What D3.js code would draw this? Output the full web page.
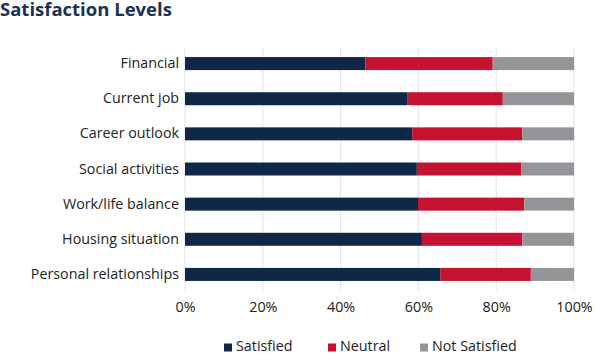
<!DOCTYPE html>
<html>
<head>
<meta charset="utf-8">
<script src="https://cdn.jsdelivr.net/npm/d3@7"></script>
<style>
  body { margin: 0; background: #fff; }
  text { font-family: "Open Sans", sans-serif; }
</style>
</head>
<body>
<div id="vis-container"></div>
<script>
// chart data
var categories = ["Financial", "Current job", "Career outlook", "Social activities",
	"Work/life balance", "Housing situation", "Personal relationships"];
var satisfied = [46.4, 57.1, 58.4, 59.6, 59.9, 60.9, 65.6];
var neutral = [32.7, 24.6, 28.3, 26.8, 27.3, 25.8, 23.3];
var notSatisfied = [20.9, 18.3, 13.3, 13.6, 12.8, 13.3, 11.1];
var seriesNames = ["Satisfied", "Neutral", "Not Satisfied"];
var xTicks = [0, 20, 40, 60, 80, 100];

var colors = ["#0f2847", "#c41230", "#949598"];

var width = 595;
var height = 354;

var svg = d3.select("#vis-container")
	.append("svg")
	.attr("width", width)
	.attr("height", height);

// title
svg.append("text")
	.attr("x", 0)
	.attr("y", 15.5)
	.style("font-family", "Open Sans, sans-serif")
	.style("font-weight", "bold")
	.style("font-size", "18.5px")
	.style("fill", "#1b3252")
	.text("Satisfaction Levels");

var rows = categories.map(function(c, i) {
	return { cat: c, Satisfied: satisfied[i], Neutral: neutral[i], "Not Satisfied": notSatisfied[i] };
});
var stacked = d3.stack().keys(seriesNames)(rows);

var xscale = d3.scaleLinear().domain([0, 100]).range([185, 574]);
var yscale = d3.scaleBand().domain(categories).range([46, 292]).paddingInner(0.63).paddingOuter(0.315);

// gridlines
svg.append("g")
	.selectAll("line")
	.data(xTicks)
	.enter()
	.append("line")
	.attr("x1", function(d) { return xscale(d); })
	.attr("x2", function(d) { return xscale(d); })
	.attr("y1", 47)
	.attr("y2", 291)
	.attr("stroke", "#e3e3e3")
	.attr("stroke-width", 1);

// bars
svg.append("g")
	.selectAll("g")
	.data(stacked)
	.enter()
	.append("g")
	.attr("fill", function(d, i) { return colors[i]; })
	.selectAll("rect")
	.data(function(d) { return d; })
	.enter()
	.append("rect")
	.attr("x", function(d) { return xscale(d[0]); })
	.attr("width", function(d) { return xscale(d[1]) - xscale(d[0]); })
	.attr("y", function(d) { return yscale(d.data.cat); })
	.attr("height", yscale.bandwidth());

// y axis
var yaxisg = svg.append("g")
	.attr("transform", "translate(185,0)")
	.call(d3.axisLeft(yscale).tickSize(0).tickPadding(6));
yaxisg.select(".domain").remove();
yaxisg.selectAll("text")
	.style("font-family", "Open Sans, sans-serif")
	.style("font-size", "14.3px")
	.style("fill", "#222");

// x axis
var xaxisg = svg.append("g")
	.attr("transform", "translate(0,291)")
	.call(d3.axisBottom(xscale).tickValues(xTicks).tickSize(0).tickPadding(11)
		.tickFormat(function(d) { return d + "%"; }));
xaxisg.select(".domain").remove();
xaxisg.selectAll("text")
	.style("font-family", "Open Sans, sans-serif")
	.style("font-size", "14.3px")
	.style("fill", "#222");

// legend
var legendX = [224, 328, 420];
var legend = svg.append("g")
	.selectAll("g")
	.data(seriesNames)
	.enter()
	.append("g")
	.attr("transform", function(d, i) { return "translate(" + legendX[i] + ",343.5)"; });
legend.append("rect")
	.attr("width", 8)
	.attr("height", 8)
	.attr("fill", function(d, i) { return colors[i]; });
legend.append("text")
	.attr("x", 12)
	.attr("y", 7)
	.style("font-size", "14.3px")
	.style("fill", "#222")
	.text(function(d) { return d; });
</script>
</body>
</html>
